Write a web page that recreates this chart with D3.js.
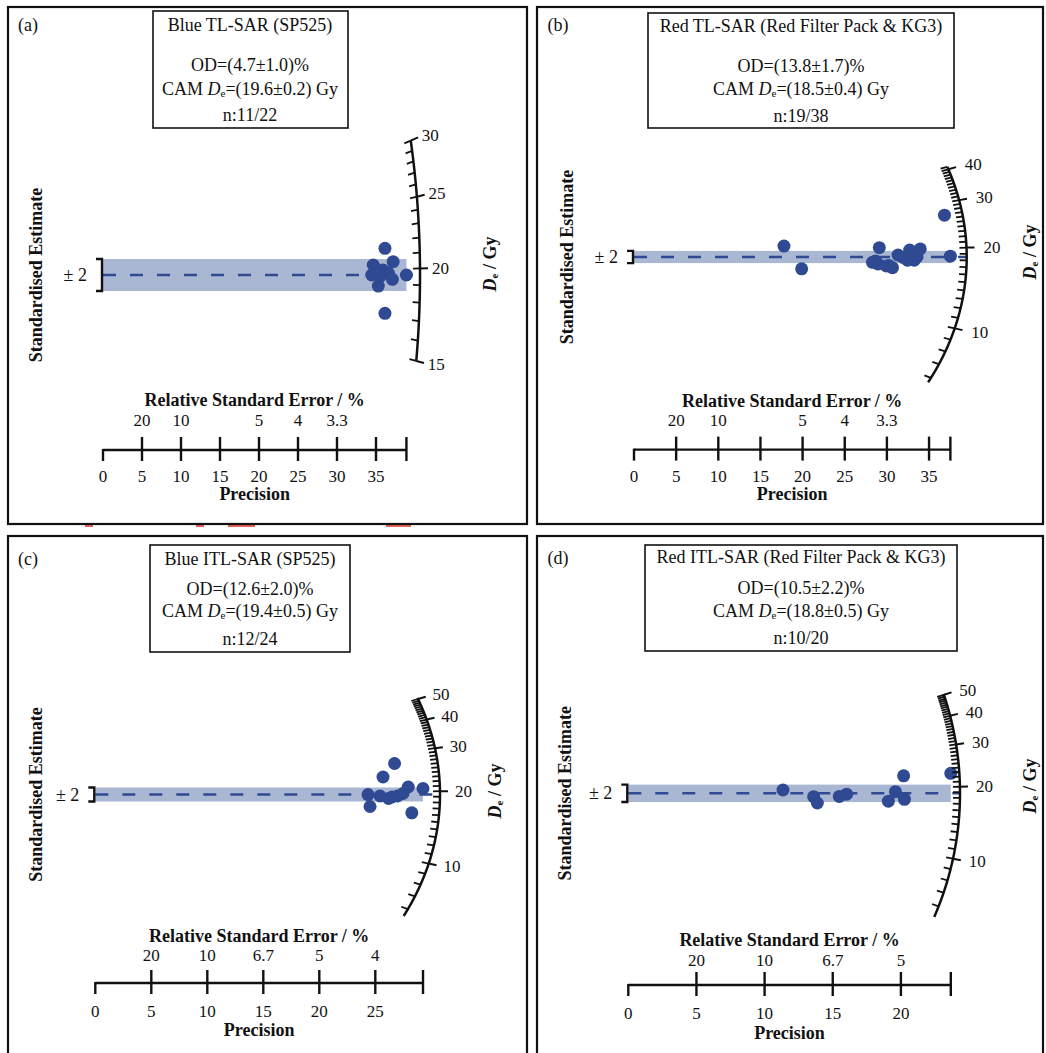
<!DOCTYPE html>
<html><head><meta charset="utf-8">
<script src="https://cdn.jsdelivr.net/npm/d3@7"></script>
<style>
body{margin:0;background:#fff}
svg{display:block}
text{font-family:"Liberation Serif","Times New Roman",serif;fill:#111}
</style>
</head><body>
<svg id="chart" width="1046" height="1053"></svg>
<script>
// ---------------- DATA ----------------
const panelLetters = ["(a)", "(b)", "(c)", "(d)"];
const panelTitles = ["Blue TL-SAR (SP525)", "Red TL-SAR (Red Filter Pack & KG3)", "Blue ITL-SAR (SP525)", "Red ITL-SAR (Red Filter Pack & KG3)"];
const odLabels = ["OD=(4.7±1.0)%", "OD=(13.8±1.7)%", "OD=(12.6±2.0)%", "OD=(10.5±2.2)%"];
const camLabels = ["=(19.6±0.2) Gy", "=(18.5±0.4) Gy", "=(19.4±0.5) Gy", "=(18.8±0.5) Gy"];
const nLabels = ["n:11/22", "n:19/38", "n:12/24", "n:10/20"];
const camValues = [19.6, 18.5, 19.4, 18.8];

// precision (x) and standardised estimate (y) of each aliquot
const precisionA = [36.15, 34.65, 37.2, 34.45, 35.9, 36.6, 37.1, 38.9, 35.3, 36.15, 35.5];
const stdEstimateA = [3.34, 1.25, 1.66, 0.0, 0.62, 0.21, -0.54, 0.0, -1.38, -4.79, -0.21];

const precisionB = [17.79, 19.89, 29.1, 28.29, 28.94, 29.93, 30.66, 31.32, 32.44, 32.7, 33.24, 33.96, 36.83, 37.53, 31.91, 32.98, 30.25, 33.57, 28.65];
const stdEstimateB = [3.57, -3.87, 3.05, -1.74, -2.3, -2.95, -3.51, 0.66, -1.05, 2.26, -1.05, 2.66, 13.7, 0.26, -0.16, 0.98, -2.79, 0.0, -1.31];

const precisionC = [26.72, 25.69, 24.35, 24.53, 25.42, 26.18, 26.98, 27.47, 27.94, 29.26, 28.26, 26.49];
const stdEstimateC = [8.86, 5.0, -0.03, -3.43, -0.43, -1.14, -0.43, 0.29, 2.14, 1.71, -5.23, -0.71];

const precisionD = [11.35, 13.6, 13.87, 15.48, 16.02, 19.08, 19.6, 20.2, 20.26, 23.66];
const stdEstimateD = [0.76, -0.78, -2.23, -0.71, -0.21, -1.82, 0.37, 4.02, -1.38, 4.6];

const precisionTicks = [[0,5,10,15,20,25,30,35],[0,5,10,15,20,25,30,35],[0,5,10,15,20,25],[0,5,10,15,20]];
const rseTickPositions = [[5,10,20,25,30],[5,10,20,25,30],[5,10,15,20,25],[5,10,15,20]];
const rseTickLabels = [["20","10","5","4","3.3"],["20","10","5","4","3.3"],["20","10","6.7","5","4"],["20","10","6.7","5"]];
const deMajorTicks = [[15,20,25,30],[10,20,30,40],[10,20,30,40,50],[10,20,30,40,50]];
const deArcRange = [[15,30],[5.7,41],[5.5,50.6],[5.3,50.4]];

const precisionSets = [precisionA, precisionB, precisionC, precisionD];
const estimateSets = [stdEstimateA, stdEstimateB, stdEstimateC, stdEstimateD];

// ---------------- LAYOUT ----------------
const layout = [
  {frame:[8,7,519,517], x0:103, kX:7.8, yc:275, kY:8.0, a:317, b:560, lblOff:12,
   axisY:450, labelY:476, rseY:420, rseTitleY:400, precTitleY:494, stdX:35.5, deX:490, deY:264,
   letter:[28,25], box:[153,11,348,128], tcx:250, ty:[25,65,88.5,115]},
  {frame:[537,7,506,517], x0:634, kX:8.43, yc:257, kY:3.05, a:332.7, b:268, lblOff:17,
   axisY:449.6, labelY:476, rseY:420, rseTitleY:400.6, precTitleY:494, stdX:567, deX:1030, deY:252,
   letter:[558,25], box:[648,13,954,128], tcx:801, ty:[26,66,88.6,115.6]},
  {frame:[8,536,519,530], x0:95.3, kX:11.2, yc:794.5, kY:3.5, a:344.7, b:272, lblOff:15,
   axisY:983, labelY:1011.7, rseY:955.3, rseTitleY:935.7, precTitleY:1030.3, stdX:35.5, deX:495, deY:791,
   letter:[28,559], box:[150,545,350,652], tcx:250, ty:[559,589,611,639]},
  {frame:[537,536,506,530], x0:628.3, kX:13.63, yc:793.3, kY:4.35, a:331.7, b:320, lblOff:16,
   axisY:985, labelY:1013, rseY:960, rseTitleY:940, precTitleY:1033, stdX:565, deX:1030, deY:786,
   letter:[558,558], box:[645,545,957,651], tcx:801, ty:[557,588,611,638]}
];

const pointColor = "#2f4a92";
const bandColor = "#aab7d3";
const svg = d3.select("#chart");
svg.append("rect").attr("width",1046).attr("height",1053).attr("fill","#fff");

// stray red marks under panel (a) as in the reference
[[85,93],[196,204],[228,255],[386,411]].forEach(r => {
  svg.append("rect").attr("x",r[0]).attr("y",524.5).attr("width",r[1]-r[0]).attr("height",2.5)
    .attr("fill","#e0463c").attr("opacity",0.85);
});

layout.forEach((L, i) => {
  const g = svg.append("g");
  const prec = precisionSets[i], est = estimateSets[i], cam = camValues[i];
  const pMax = d3.max(prec);
  const x = d3.scaleLinear().domain([0, pMax]).range([L.x0, L.x0 + pMax * L.kX]);
  const y = d3.scaleLinear().domain([-2, 2]).range([L.yc + 2 * L.kY, L.yc - 2 * L.kY]);
  const logDe = d3.scaleLog().domain([cam, cam * Math.E]).range([0, 1]); // gives ln(De/cam)

  // frame
  g.append("rect").attr("x",L.frame[0]).attr("y",L.frame[1]).attr("width",L.frame[2]).attr("height",L.frame[3])
    .attr("fill","none").attr("stroke","#111").attr("stroke-width",2.2);

  // letter
  g.append("text").attr("x",L.letter[0]).attr("y",L.letter[1]).attr("text-anchor","middle")
    .attr("dominant-baseline","central").attr("font-size",18).text(panelLetters[i]);

  // info box
  g.append("rect").attr("x",L.box[0]).attr("y",L.box[1]).attr("width",L.box[2]-L.box[0]).attr("height",L.box[3]-L.box[1])
    .attr("fill","#fff").attr("stroke","#111").attr("stroke-width",1.6);
  const lines = [panelTitles[i], odLabels[i], null, nLabels[i]];
  lines.forEach((t, k) => {
    if (t === null) return;
    g.append("text").attr("x",L.tcx).attr("y",L.ty[k]).attr("text-anchor","middle")
      .attr("dominant-baseline","central").attr("font-size",18).text(t);
  });
  const camT = g.append("text").attr("x",L.tcx).attr("y",L.ty[2]).attr("text-anchor","middle")
    .attr("dominant-baseline","central").attr("font-size",18);
  camT.append("tspan").text("CAM ");
  camT.append("tspan").attr("font-style","italic").text("D");
  camT.append("tspan").attr("font-size",11).attr("dy",4).text("e");
  camT.append("tspan").attr("dy",-4).text(camLabels[i]);

  // arc geometry: ray slope in pixels for a De value
  const slopeOf = v => logDe(v) * L.kY / L.kX;
  const arcPt = (v, extra) => {
    const s = slopeOf(v);
    const X = 1 / Math.sqrt(1 / (L.a * L.a) + (s * s) / (L.b * L.b));
    const n = Math.sqrt(1 + s * s);
    const Xe = X + (extra || 0) / n;
    return [L.x0 + Xe, y(0) - s * Xe];
  };

  // band (±2)
  g.append("rect").attr("x",x(0)).attr("y",y(2)).attr("width",x(pMax)-x(0)).attr("height",y(-2)-y(2))
    .attr("fill",bandColor);
  // central line
  g.append("line").attr("x1",x(0)).attr("x2",arcPt(cam)[0]).attr("y1",y(0)).attr("y2",y(0))
    .attr("stroke",pointColor).attr("stroke-width",2.4).attr("stroke-dasharray","13,14");

  // bracket and ±2 label
  g.append("path").attr("d",`M${x(0)-7},${y(2)} H${x(0)-1} V${y(-2)} H${x(0)-7}`)
    .attr("fill","none").attr("stroke","#111").attr("stroke-width",2.4);
  g.append("text").attr("x",x(0)-16).attr("y",y(0)).attr("text-anchor","end")
    .attr("dominant-baseline","central").attr("font-size",18).text("± 2");

  // points
  g.selectAll("circle.pt").data(prec.map((p, k) => [p, est[k]])).enter().append("circle")
    .attr("cx", d => x(d[0])).attr("cy", d => y(d[1])).attr("r", 6.5).attr("fill", pointColor);

  // De arc
  const lo = deArcRange[i][0], hi = deArcRange[i][1];
  const arcVals = d3.range(0, 301).map(k => lo * Math.pow(hi / lo, k / 300));
  g.append("path").attr("d", d3.line()(arcVals.map(v => arcPt(v, 0))))
    .attr("fill","none").attr("stroke","#111").attr("stroke-width",2.5);
  d3.range(Math.ceil(lo), Math.floor(hi) + 1).forEach(v => {
    const p1 = arcPt(v, 0), p2 = arcPt(v, -7);
    g.append("line").attr("x1",p1[0]).attr("y1",p1[1]).attr("x2",p2[0]).attr("y2",p2[1])
      .attr("stroke","#111").attr("stroke-width",1.8);
  });
  deMajorTicks[i].forEach(v => {
    const p1 = arcPt(v, 0), p2 = arcPt(v, 8), pl = arcPt(v, L.lblOff);
    g.append("line").attr("x1",p1[0]).attr("y1",p1[1]).attr("x2",p2[0]).attr("y2",p2[1])
      .attr("stroke","#111").attr("stroke-width",2);
    g.append("text").attr("x",pl[0]).attr("y",pl[1]).attr("dominant-baseline","central")
      .attr("font-size",17).text(v);
  });

  // De / Gy label
  const deT = g.append("text").attr("transform",`translate(${L.deX},${L.deY}) rotate(-90)`)
    .attr("text-anchor","middle").attr("dominant-baseline","central").attr("font-size",18).attr("font-weight","bold");
  deT.append("tspan").attr("font-style","italic").text("D");
  deT.append("tspan").attr("font-size",11).attr("dy",4).text("e");
  deT.append("tspan").attr("dy",-4).text(" / Gy");

  // Standardised Estimate label
  g.append("text").attr("transform",`translate(${L.stdX},${L.yc}) rotate(-90)`)
    .attr("text-anchor","middle").attr("dominant-baseline","central").attr("font-size",18)
    .attr("font-weight","bold").text("Standardised Estimate");

  // precision axis
  const ay = L.axisY;
  g.append("line").attr("x1",x(0)).attr("x2",x(pMax)).attr("y1",ay).attr("y2",ay)
    .attr("stroke","#111").attr("stroke-width",2.4);
  const tickVals = precisionTicks[i].concat([pMax]);
  tickVals.forEach(t => {
    g.append("line").attr("x1",x(t)).attr("x2",x(t)).attr("y1", t === 0 ? ay - 1 : ay - 13).attr("y2", ay + 11)
      .attr("stroke","#111").attr("stroke-width",2.4);
  });
  precisionTicks[i].forEach(t => {
    g.append("text").attr("x",x(t)).attr("y",L.labelY).attr("text-anchor","middle")
      .attr("dominant-baseline","central").attr("font-size",17).text(t);
  });
  rseTickPositions[i].forEach((t, k) => {
    g.append("text").attr("x",x(t)).attr("y",L.rseY).attr("text-anchor","middle")
      .attr("dominant-baseline","central").attr("font-size",17).text(rseTickLabels[i][k]);
  });
  const mid = (x(0) + x(pMax)) / 2;
  g.append("text").attr("x",mid).attr("y",L.rseTitleY).attr("text-anchor","middle")
    .attr("dominant-baseline","central").attr("font-size",18).attr("font-weight","bold")
    .text("Relative Standard Error / %");
  g.append("text").attr("x",mid).attr("y",L.precTitleY).attr("text-anchor","middle")
    .attr("dominant-baseline","central").attr("font-size",18).attr("font-weight","bold")
    .text("Precision");
});
</script>
</body></html>
